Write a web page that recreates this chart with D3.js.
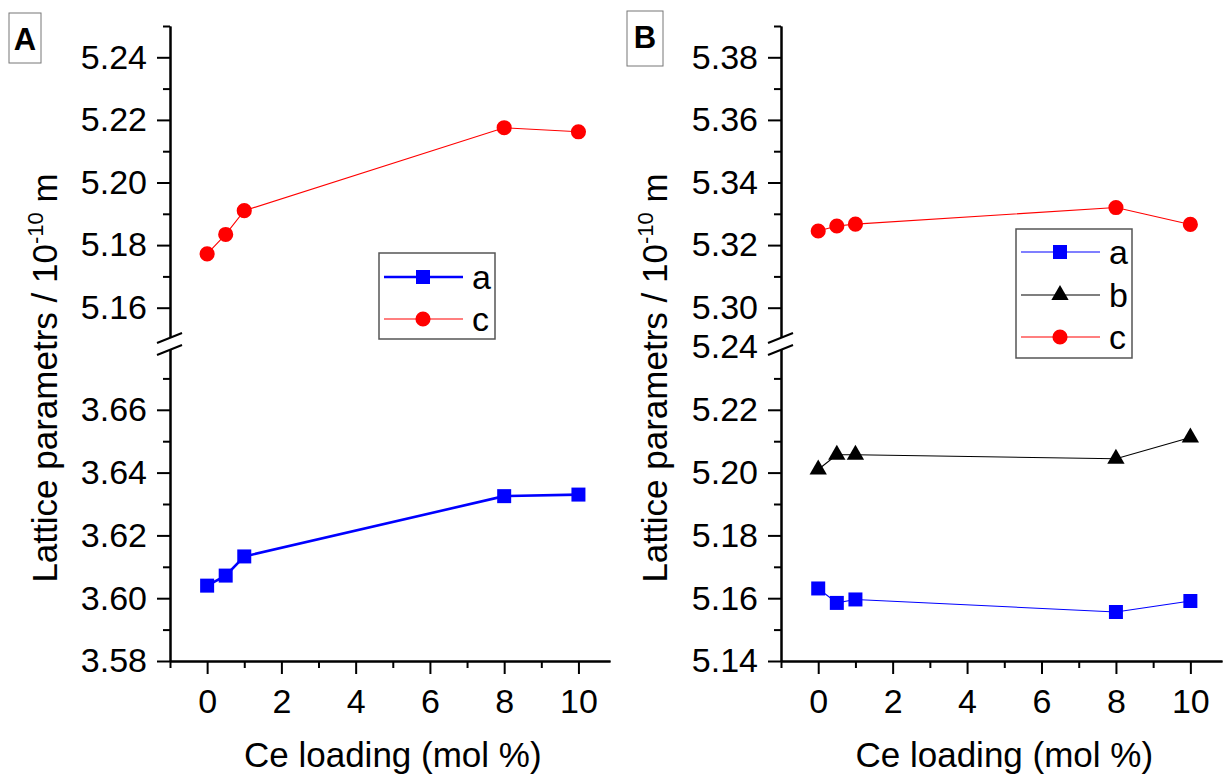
<!DOCTYPE html>
<html>
<head>
<meta charset="utf-8">
<script src="https://cdn.jsdelivr.net/npm/d3@7"></script>
<style>
  body { margin: 0; background: #fff; }
  svg { font-family: "Liberation Sans", Arial, sans-serif; }
  .axis path, .axis line { stroke: #000; stroke-width: 2; }
  .axis text { font-size: 34px; fill: #000; font-family: "Liberation Sans", Arial, sans-serif; }
</style>
</head>
<body>
<div class="chart"></div>
<script>
var svgWidth = 1224;
var svgHeight = 778;

// Ce loading (mol %)
var loading = [0, 0.5, 1, 8, 10];

// panel A lattice parameters (10^-10 m)
var aSeriesA = [3.6040, 3.6072, 3.6133, 3.6325, 3.6330];
var cSeriesA = [5.1772, 5.1834, 5.1910, 5.2175, 5.2162];

// panel B lattice parameters (10^-10 m)
var aSeriesB = [5.1631, 5.1585, 5.1596, 5.1556, 5.1591];
var bSeriesB = [5.2010, 5.2057, 5.2057, 5.2044, 5.2112];
var cSeriesB = [5.3245, 5.3261, 5.3267, 5.3320, 5.3266];

// tick labels
var xTicks = [0, 2, 4, 6, 8, 10];
var xMinor = [-1, 1, 3, 5, 7, 9];
var upperTicksA = [5.16, 5.18, 5.20, 5.22, 5.24];
var upperMinorA = [5.17, 5.19, 5.21, 5.23, 5.25];
var lowerTicksA = [3.58, 3.60, 3.62, 3.64, 3.66];
var lowerMinorA = [3.59, 3.61, 3.63, 3.65, 3.67];
var upperTicksB = [5.30, 5.32, 5.34, 5.36, 5.38];
var upperMinorB = [5.31, 5.33, 5.35, 5.37, 5.39];
var lowerTicksB = [5.14, 5.16, 5.18, 5.20, 5.22, 5.24];
var lowerMinorB = [5.15, 5.17, 5.19, 5.21, 5.23];

var svg = d3.select(".chart")
  .append("svg")
  .attr("width", svgWidth)
  .attr("height", svgHeight);

var panels = [
  {
    label: "A", left: 170, right: 610,
    upperDomain: [5.15, 5.25], lowerDomain: [3.58, 3.68],
    upperTicks: upperTicksA, upperMinor: upperMinorA,
    lowerTicks: lowerTicksA, lowerMinor: lowerMinorA,
    labelBox: [9, 13, 32, 50],
    titleX: 57,
    legend: { x: 379, y: 253, w: 116, h: 86, rows: [277, 319] },
    series: [
      { name: "a", values: aSeriesA, part: "lower", color: "#0000ff", width: 2.6, symbol: d3.symbolSquare, size: 196 },
      { name: "c", values: cSeriesA, part: "upper", color: "#ff0000", width: 1.1, symbol: d3.symbolCircle, size: 180 }
    ]
  },
  {
    label: "B", left: 781, right: 1222,
    upperDomain: [5.29, 5.39], lowerDomain: [5.14, 5.24],
    upperTicks: upperTicksB, upperMinor: upperMinorB,
    lowerTicks: lowerTicksB, lowerMinor: lowerMinorB,
    labelBox: [627, 11, 36, 55],
    titleX: 667,
    legend: { x: 1016, y: 229, w: 116, h: 129, rows: [252, 295, 337] },
    series: [
      { name: "a", values: aSeriesB, part: "lower", color: "#0000ff", width: 1.1, symbol: d3.symbolSquare, size: 196 },
      { name: "b", values: bSeriesB, part: "lower", color: "#000000", width: 1.1, symbol: d3.symbolTriangle, size: 130 },
      { name: "c", values: cSeriesB, part: "upper", color: "#ff0000", width: 1.1, symbol: d3.symbolCircle, size: 180 }
    ]
  }
];

var upperRange = [339, 26];
var lowerRange = [661, 347];
var xAxisY = 661;

panels.forEach(function(p) {
  var g = svg.append("g");

  var x = d3.scaleLinear().domain([-1, 10.85]).range([p.left, p.right]);
  var yUpper = d3.scaleLinear().domain(p.upperDomain).range(upperRange);
  var yLower = d3.scaleLinear().domain(p.lowerDomain).range(lowerRange);
  var axisX = x(-1);

  // x axis
  g.append("g").attr("class", "axis")
    .attr("transform", `translate(0, ${xAxisY})`)
    .call(d3.axisBottom(x).tickValues(xMinor).tickSize(7).tickSizeOuter(0).tickFormat(""));
  g.append("g").attr("class", "axis")
    .attr("transform", `translate(0, ${xAxisY})`)
    .call(d3.axisBottom(x).tickValues(xTicks).tickSize(13).tickSizeOuter(0).tickPadding(15).tickFormat(d3.format("d")));

  // y axes, upper and lower segments
  [[yUpper, p.upperTicks, p.upperMinor], [yLower, p.lowerTicks, p.lowerMinor]].forEach(function(s) {
    g.append("g").attr("class", "axis")
      .attr("transform", `translate(${axisX}, 0)`)
      .call(d3.axisLeft(s[0]).tickValues(s[2]).tickSize(7).tickSizeOuter(0).tickFormat(""));
    g.append("g").attr("class", "axis")
      .attr("transform", `translate(${axisX}, 0)`)
      .call(d3.axisLeft(s[0]).tickValues(s[1]).tickSize(13).tickSizeOuter(0).tickPadding(10).tickFormat(d3.format(".2f")));
  });

  // axis break
  var bc = 344;
  g.append("polygon")
    .attr("points", [[axisX - 13, bc - 1], [axisX + 12, bc - 11], [axisX + 12, bc + 1], [axisX - 13, bc + 11]].join(" "))
    .attr("fill", "#fff");
  [-6, 6].forEach(function(o) {
    g.append("line")
      .attr("x1", axisX - 13).attr("y1", bc + o + 5)
      .attr("x2", axisX + 12).attr("y2", bc + o - 5)
      .attr("stroke", "#000").attr("stroke-width", 2);
  });

  // axis titles
  g.append("text")
    .attr("x", x(5))
    .attr("y", 767)
    .attr("text-anchor", "middle")
    .attr("font-size", "35px")
    .text("Ce loading (mol %)");

  var yTitle = g.append("text")
    .attr("transform", `translate(${p.titleX}, 378) rotate(-90)`)
    .attr("text-anchor", "middle")
    .attr("font-size", "35px");
  yTitle.append("tspan").text("Lattice parametrs / 10");
  yTitle.append("tspan").attr("font-size", "22px").attr("dy", "-14").text("-10");
  yTitle.append("tspan").attr("dy", "14").text(" m");

  // series
  p.series.forEach(function(s) {
    var y = s.part === "upper" ? yUpper : yLower;
    var pts = loading.map(function(d, i) { return [d, s.values[i]]; });
    var line = d3.line().x(d => x(d[0])).y(d => y(d[1]));
    g.append("path")
      .datum(pts)
      .attr("d", line)
      .attr("fill", "none")
      .attr("stroke", s.color)
      .attr("stroke-width", s.width);
    g.selectAll(null)
      .data(pts)
      .enter()
      .append("path")
      .attr("transform", d => `translate(${x(d[0])}, ${y(d[1])})`)
      .attr("d", d3.symbol().type(s.symbol).size(s.size))
      .attr("fill", s.color);
  });

  // legend
  var L = p.legend;
  g.append("rect")
    .attr("x", L.x).attr("y", L.y).attr("width", L.w).attr("height", L.h)
    .attr("fill", "#fff").attr("stroke", "#555").attr("stroke-width", 1.5);
  p.series.forEach(function(s, i) {
    var ry = L.rows[i];
    g.append("line")
      .attr("x1", L.x + 5).attr("x2", L.x + 84)
      .attr("y1", ry).attr("y2", ry)
      .attr("stroke", s.color).attr("stroke-width", s.width);
    g.append("path")
      .attr("transform", `translate(${L.x + 44}, ${ry})`)
      .attr("d", d3.symbol().type(s.symbol).size(s.size))
      .attr("fill", s.color);
    g.append("text")
      .attr("x", L.x + 93).attr("y", ry + 12)
      .attr("font-size", "34px")
      .text(s.name);
  });

  // panel label
  var b = p.labelBox;
  g.append("rect")
    .attr("x", b[0]).attr("y", b[1]).attr("width", b[2]).attr("height", b[3])
    .attr("fill", "#fff").attr("stroke", "#777").attr("stroke-width", 1);
  g.append("text")
    .attr("x", b[0] + b[2] / 2).attr("y", b[1] + 37)
    .attr("text-anchor", "middle")
    .attr("font-size", "31px")
    .attr("font-weight", "bold")
    .text(p.label);
});
</script>
</body>
</html>
